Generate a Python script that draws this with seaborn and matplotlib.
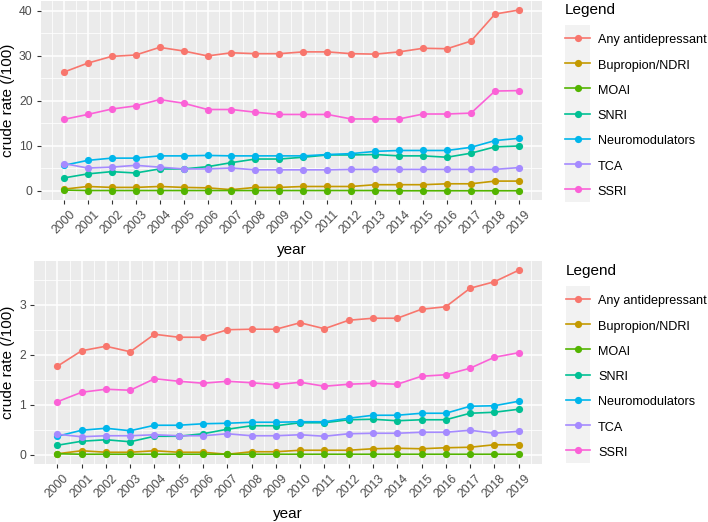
import pandas as pd
import seaborn as sns
import matplotlib.pyplot as plt
from matplotlib.legend_handler import HandlerLine2D
from matplotlib.patches import Rectangle
from matplotlib.ticker import MultipleLocator

# Datos
anios = list(range(2000, 2020))
grupos = ["Any antidepressant", "Bupropion/NDRI", "MOAI", "SNRI",
          "Neuromodulators", "TCA", "SSRI"]
colores = ["#F8766D", "#C49A00", "#53B400", "#00C094", "#00B6EB", "#A58AFF", "#FB61D7"]

# Panel superior
any_sup = [26.4, 28.4, 29.9, 30.2, 31.9, 31.1, 30.0, 30.7, 30.5, 30.5,
           30.9, 30.9, 30.5, 30.4, 30.9, 31.7, 31.6, 33.3, 39.3, 40.2]
bupropion_sup = [0.4, 1.0, 0.8, 0.8, 1.0, 0.8, 0.7, 0.3, 0.8, 0.8,
                 1.0, 1.0, 1.0, 1.4, 1.4, 1.4, 1.6, 1.6, 2.2, 2.2]
moai_sup = [0.2, 0.1, 0.1, 0.1, 0.1, 0.1, 0.1, 0.1, 0.1, 0.1,
            0.1, 0.1, 0.1, 0.1, 0.05, 0.05, 0.05, 0.05, 0.05, 0.05]
snri_sup = [2.9, 3.8, 4.3, 4.0, 4.9, 4.9, 5.4, 6.3, 7.1, 7.1,
            7.5, 8.0, 8.0, 8.1, 7.8, 7.8, 7.5, 8.4, 9.8, 10.0]
neuro_sup = [5.7, 6.8, 7.3, 7.3, 7.8, 7.8, 7.9, 7.8, 7.8, 7.8,
             7.8, 8.1, 8.3, 8.8, 9.0, 9.0, 9.0, 9.7, 11.2, 11.7]
tca_sup = [6.1, 5.1, 5.3, 5.7, 5.3, 4.9, 4.9, 5.1, 4.7, 4.7,
           4.7, 4.7, 4.8, 4.8, 4.8, 4.8, 4.8, 4.8, 4.8, 5.2]
ssri_sup = [15.9, 17.0, 18.2, 18.9, 20.3, 19.5, 18.1, 18.1, 17.5, 17.0,
            17.0, 17.0, 16.0, 16.0, 16.0, 17.1, 17.1, 17.3, 22.2, 22.3]

# Panel inferior
any_inf = [1.77, 2.08, 2.17, 2.06, 2.41, 2.35, 2.35, 2.50, 2.51, 2.51,
           2.64, 2.52, 2.69, 2.73, 2.73, 2.91, 2.96, 3.33, 3.46, 3.69]
bupropion_inf = [0.02, 0.08, 0.05, 0.05, 0.08, 0.05, 0.05, 0.01, 0.06, 0.06,
                 0.09, 0.09, 0.09, 0.12, 0.13, 0.12, 0.14, 0.15, 0.20, 0.20]
moai_inf = [0.02, 0.01, 0.01, 0.01, 0.01, 0.01, 0.01, 0.01, 0.01, 0.01,
            0.01, 0.01, 0.01, 0.01, 0.01, 0.01, 0.01, 0.01, 0.01, 0.01]
snri_inf = [0.19, 0.27, 0.30, 0.26, 0.37, 0.37, 0.42, 0.51, 0.58, 0.58,
            0.64, 0.64, 0.70, 0.71, 0.68, 0.70, 0.70, 0.83, 0.85, 0.91]
neuro_inf = [0.37, 0.49, 0.53, 0.48, 0.59, 0.59, 0.62, 0.63, 0.65, 0.65,
             0.66, 0.66, 0.73, 0.79, 0.79, 0.83, 0.83, 0.97, 0.98, 1.07]
tca_inf = [0.41, 0.36, 0.38, 0.38, 0.40, 0.38, 0.38, 0.42, 0.38, 0.38,
           0.40, 0.37, 0.42, 0.43, 0.43, 0.45, 0.45, 0.49, 0.43, 0.47]
ssri_inf = [1.06, 1.25, 1.31, 1.29, 1.52, 1.47, 1.43, 1.47, 1.44, 1.40,
            1.45, 1.37, 1.41, 1.43, 1.41, 1.57, 1.60, 1.73, 1.95, 2.04]

PASO_CLAVE = 18.2  # alto de cada fila de la leyenda, en puntos


def armar_df(series):
    filas = []
    for grupo, valores in zip(grupos, series):
        for a, v in zip(anios, valores):
            filas.append({"year": a, "rate": v, "Legend": grupo})
    return pd.DataFrame(filas)


class ClaveGris(HandlerLine2D):
    # fondo gris detrás de cada clave, como en ggplot
    def create_artists(self, legend, orig_handle, xdescent, ydescent,
                       width, height, fontsize, trans):
        yc = (height - ydescent) / 2
        fondo = Rectangle((-xdescent, yc - PASO_CLAVE / 2), width, PASO_CLAVE,
                          facecolor="#F2F2F2", edgecolor="none", transform=trans)
        arts = super().create_artists(legend, orig_handle, xdescent, ydescent,
                                      width, height, fontsize, trans)
        return [fondo] + arts


def dibujar_panel(ax, df, paso, y_leyenda):
    sns.lineplot(data=df, x="year", y="rate", hue="Legend", hue_order=grupos,
                 palette=colores, marker="o", markersize=5.2, markeredgewidth=0,
                 linewidth=1.2, ax=ax)
    ax.set_facecolor("#EBEBEB")
    for s in ax.spines.values():
        s.set_visible(False)
    ax.set_xlim(1999.05, 2019.95)
    ax.set_xticks(anios)
    ax.set_xticklabels([str(a) for a in anios], rotation=45, ha="center", va="top")
    ax.xaxis.set_minor_locator(MultipleLocator(1, offset=0.5))
    ax.yaxis.set_major_locator(MultipleLocator(paso))
    ax.yaxis.set_minor_locator(MultipleLocator(paso / 2))
    ax.grid(which="major", color="white", linewidth=1.1)
    ax.grid(which="minor", color="white", linewidth=0.55)
    ax.set_axisbelow(True)
    ax.tick_params(which="major", length=3, width=0.8, color="#333333",
                   labelcolor="#4D4D4D", labelsize=8.8, pad=3)
    ax.tick_params(which="minor", length=0)
    ax.set_xlabel("year", fontsize=11, labelpad=5)
    ax.set_ylabel("crude rate (/100)", fontsize=11, labelpad=3)

    handles, labels = ax.get_legend_handles_labels()
    ax.get_legend().remove()
    leg = ax.legend(handles, labels, title="Legend", loc="upper left",
                    bbox_to_anchor=(1.047, y_leyenda), frameon=False, fontsize=9.1,
                    title_fontsize=11, alignment="left", labelspacing=0.88,
                    handlelength=1.95, handleheight=1.3, handletextpad=0.62,
                    borderpad=0, borderaxespad=0,
                    handler_map={h: ClaveGris() for h in handles})
    # más aire entre el título y las claves
    leg._legend_box.sep = 11.0
    return leg


plt.rcParams["font.family"] = ["Liberation Sans", "DejaVu Sans"]

fig = plt.figure(figsize=(7.08, 5.22), dpi=100)
ax_sup = fig.add_axes([41 / 708, 1 - 200 / 522, 500.7 / 708, 199 / 522])
ax_inf = fig.add_axes([34.3 / 708, 1 - 464 / 522, 507.4 / 708, 203 / 522])

dibujar_panel(ax_sup, armar_df([any_sup, bupropion_sup, moai_sup, snri_sup,
                                neuro_sup, tca_sup, ssri_sup]), 10, 0.99)
ax_sup.set_ylim(-2.0, 42.2)

dibujar_panel(ax_inf, armar_df([any_inf, bupropion_inf, moai_inf, snri_inf,
                                neuro_inf, tca_inf, ssri_inf]), 1, 0.985)
ax_inf.set_ylim(-0.185, 3.875)

fig.savefig("out.png", dpi=100)
plt.close()
